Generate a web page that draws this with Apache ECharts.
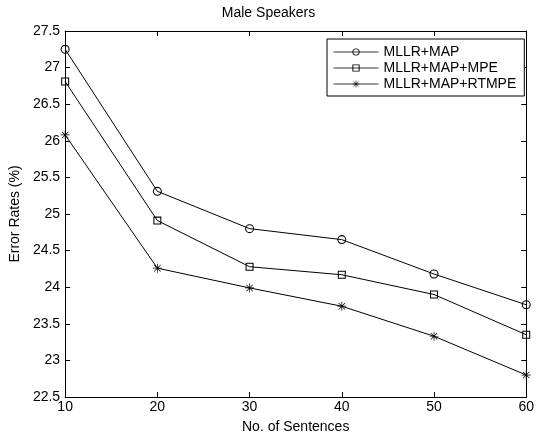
<!DOCTYPE html>
<html>
<head>
<meta charset="utf-8">
<script src="https://cdn.jsdelivr.net/npm/echarts@6/dist/echarts.min.js"></script>
<style>
  html, body { margin: 0; padding: 0; background: #fff; }
  #chart { width: 537px; height: 439px; }
</style>
</head>
<body>
<div id="chart"></div>
<script>
const sentences = [10, 20, 30, 40, 50, 60];
const mllrMap = [27.25, 25.31, 24.8, 24.65, 24.18, 23.76];
const mllrMapMpe = [26.81, 24.91, 24.28, 24.17, 23.9, 23.35];
const mllrMapRtmpe = [26.08, 24.26, 23.99, 23.74, 23.33, 22.8];

// hollow markers as filled rings so the line shows through, like matlab
const ring =
  "path://M10 0A10 10 0 1 1 10 20A10 10 0 1 1 10 0Z " +
  "M10 2.4A7.6 7.6 0 1 0 10 17.6A7.6 7.6 0 1 0 10 2.4Z";
const box = "path://M0 0L20 0L20 20L0 20Z M2.6 2.6L2.6 17.4L17.4 17.4L17.4 2.6Z";
const asterisk =
  "path://M9.2 0L10.8 0L10.8 20L9.2 20Z M0 9.2L20 9.2L20 10.8L0 10.8Z " +
  "M2.3 3.4L3.4 2.3L17.7 16.6L16.6 17.7Z M16.6 2.3L17.7 3.4L3.4 17.7L2.3 16.6Z";

const font = "Liberation Sans, Arial, sans-serif";

function frameAxis(extra) {
  return Object.assign(
    {
      axisLine: { show: true, onZero: false, lineStyle: { color: "#000", width: 1 } },
      axisTick: { show: true, inside: true, length: 5, lineStyle: { color: "#000" } },
      splitLine: { show: false },
    },
    extra
  );
}

function makeSeries(name, values, symbol, size) {
  return {
    name: name,
    type: "line",
    data: sentences.map((x, i) => [x, values[i]]),
    symbol: symbol,
    symbolSize: size,
    showAllSymbol: true,
    lineStyle: { color: "#000", width: 1 },
    itemStyle: { color: "#000", borderColor: "transparent", borderWidth: 0 },
    emphasis: { disabled: true },
    animation: false,
  };
}

const chart = echarts.init(document.getElementById("chart"));
chart.setOption({
  animation: false,
  title: {
    text: "Male Speakers",
    left: "center",
    top: 6,
    padding: 0,
    textStyle: { fontFamily: font, fontSize: 14, fontWeight: "normal", color: "#000" },
  },
  grid: { left: 62, right: 6, top: 31, bottom: 39, containLabel: false },
  legend: {
    orient: "vertical",
    left: 327,
    top: 39,
    itemWidth: 45,
    itemHeight: 9,
    itemGap: 2,
    padding: [6, 8, 5, 6],
    borderColor: "#000",
    borderWidth: 1,
    backgroundColor: "#fff",
    lineStyle: { width: 1, color: "#333" },
    textStyle: { fontFamily: font, fontSize: 14, lineHeight: 14, color: "#000" },
    data: ["MLLR+MAP", "MLLR+MAP+MPE", "MLLR+MAP+RTMPE"],
  },
  xAxis: [
    frameAxis({
      type: "value",
      min: 10,
      max: 60,
      interval: 10,
      name: "No. of Sentences",
      nameLocation: "middle",
      nameGap: 23,
      nameTextStyle: { fontFamily: font, fontSize: 14, color: "#000" },
      axisLabel: { fontFamily: font, fontSize: 14, color: "#000", margin: 3 },
    }),
    frameAxis({
      type: "value",
      position: "top",
      min: 10,
      max: 60,
      interval: 10,
      axisLabel: { show: false },
    }),
  ],
  yAxis: [
    frameAxis({
      type: "value",
      min: 22.5,
      max: 27.5,
      interval: 0.5,
      name: "Error Rates (%)",
      nameLocation: "middle",
      nameGap: 40,
      nameTextStyle: { fontFamily: font, fontSize: 14, color: "#000" },
      axisLabel: { fontFamily: font, fontSize: 14, color: "#000", margin: 5 },
    }),
    frameAxis({
      type: "value",
      position: "right",
      min: 22.5,
      max: 27.5,
      interval: 0.5,
      axisLabel: { show: false },
    }),
  ],
  series: [
    makeSeries("MLLR+MAP", mllrMap, ring, 9),
    makeSeries("MLLR+MAP+MPE", mllrMapMpe, box, 8),
    makeSeries("MLLR+MAP+RTMPE", mllrMapRtmpe, asterisk, 9),
  ],
});
</script>
</body>
</html>
